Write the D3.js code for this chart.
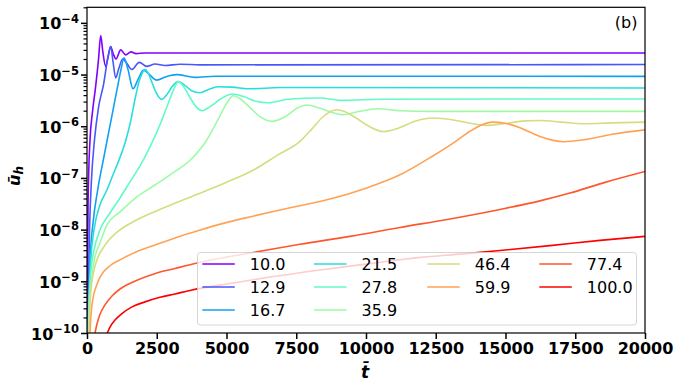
<!DOCTYPE html>
<html><head><meta charset="utf-8">
<script src="https://cdn.jsdelivr.net/npm/d3@7"></script>
<style>body{margin:0;background:#fff}svg{display:block}text{font-family:"DejaVu Sans",sans-serif}</style>
</head><body><svg id="chart" width="677" height="390"></svg>
<script>
// ---------- data ----------
const categories = ["10.0","12.9","16.7","21.5","27.8","35.9","46.4","59.9","77.4","100.0"];
const xTicks = [0,2500,5000,7500,10000,12500,15000,17500,20000];
const yTicks = [1e-10,1e-9,1e-8,1e-7,1e-6,1e-5,1e-4];
const yTickExponents = ["\u221210","\u22129","\u22128","\u22127","\u22126","\u22125","\u22124"];

const s10_0 = [[7,1.0e-10],[18,1.06e-9],[36,2.4e-8],[61,1.26e-7],[108,5.5e-7],[197,1.9e-6],[305,5.6e-6],[412,1.95e-5],[491,5.7e-5],[566,2.8e-5],[670,1.44e-5],[763,2.3e-5],[849,3.5e-5],[943,2.5e-5],[1039,2.0e-5],[1208,3.0e-5],[1387,2.4e-5],[1577,2.74e-5],[1756,2.54e-5],[2079,2.62e-5],[20000,2.62e-5]];
const s12_9 = [[20,1e-10],[54,1.06e-9],[90,9.9e-9],[161,9.2e-8],[269,5.5e-7],[412,2.3e-6],[599,6.7e-6],[735,1.95e-5],[849,3.5e-5],[932,1.78e-5],[1029,8.6e-6],[1129,1.25e-5],[1280,2.0e-5],[1434,1.63e-5],[1602,1.25e-5],[1875,1.72e-5],[2140,1.44e-5],[2437,1.6e-5],[2796,1.5e-5],[3333,1.58e-5],[4050,1.54e-5],[20000,1.56e-5]];
const s16_7 = [[30,1e-10],[90,6.8e-10],[118,3.0e-9],[215,1.33e-8],[384,5.9e-8],[609,2.6e-7],[842,1.15e-6],[1075,5.1e-6],[1219,1.25e-5],[1326,2.1e-5],[1469,1.25e-5],[1649,5.3e-6],[1828,8.0e-6],[2025,1.22e-5],[2222,1.02e-5],[2498,7.8e-6],[2832,9.1e-6],[3215,9.95e-6],[3871,8.8e-6],[4588,9.3e-6],[20000,9.2e-6]];
const s21_5 = [[40,1e-10],[72,4.3e-10],[143,3.0e-9],[251,9.9e-9],[466,3.0e-8],[717,5.9e-8],[932,1.15e-7],[1183,2.5e-7],[1398,5.5e-7],[1577,1.34e-6],[1720,3.3e-6],[1864,7.3e-6],[1971,1.04e-5],[2079,1.25e-5],[2186,1.09e-5],[2330,7.0e-6],[2473,4.5e-6],[2677,3.3e-6],[2867,4.1e-6],[3047,5.8e-6],[3262,7.3e-6],[3477,6.4e-6],[3763,4.8e-6],[4050,4.45e-6],[4337,5.1e-6],[4695,5.8e-6],[5197,5.7e-6],[5842,5.3e-6],[6917,5.6e-6],[20000,5.5e-6]];
const s27_8 = [[50,1e-10],[79,4.3e-10],[143,1.66e-9],[251,4.0e-9],[466,9.9e-9],[824,2.1e-8],[1183,4.1e-8],[1541,8.4e-8],[1900,1.71e-7],[2258,4.0e-7],[2616,1.07e-6],[2903,2.7e-6],[3118,5.3e-6],[3272,7.3e-6],[3441,6.1e-6],[3692,3.6e-6],[3907,2.4e-6],[4122,2.0e-6],[4409,2.4e-6],[4803,3.4e-6],[5197,4.2e-6],[5591,3.8e-6],[6057,3.05e-6],[6487,2.85e-6],[7204,3.33e-6],[8351,3.52e-6],[9176,3.16e-6],[10502,3.33e-6],[20000,3.37e-6]];
const s35_9 = [[60,1e-10],[90,3.5e-10],[143,8.5e-10],[251,2.4e-9],[466,5.5e-9],[717,1.23e-8],[1183,2.2e-8],[1792,4.3e-8],[2437,7.3e-8],[2975,1.15e-7],[3692,2.2e-7],[4229,4.8e-7],[4695,1.34e-6],[5018,2.85e-6],[5244,3.9e-6],[5484,3.4e-6],[5842,2.3e-6],[6201,1.53e-6],[6620,1.24e-6],[7097,1.53e-6],[7527,2.23e-6],[7885,2.58e-6],[8351,2.23e-6],[8817,1.83e-6],[9186,1.67e-6],[9785,1.95e-6],[10383,2.18e-6],[11218,2.0e-6],[12294,1.94e-6],[20000,1.94e-6]];
const s46_4 = [[70,1e-10],[97,2.8e-10],[143,6.8e-10],[215,1.32e-9],[358,2.6e-9],[645,5.0e-9],[1183,9.9e-9],[1720,1.48e-8],[2401,2.2e-8],[3190,3.3e-8],[3978,4.9e-8],[4946,8.0e-8],[5986,1.44e-7],[6846,2.8e-7],[7634,5.1e-7],[8064,8.9e-7],[8423,1.46e-6],[8710,1.91e-6],[8950,2.09e-6],[9211,1.95e-6],[9606,1.49e-6],[10072,1.02e-6],[10620,7.9e-7],[11147,9.1e-7],[11756,1.25e-6],[12412,1.44e-6],[13082,1.34e-6],[13727,1.14e-6],[14326,1.04e-6],[14982,1.13e-6],[15699,1.27e-6],[16236,1.29e-6],[17025,1.2e-6],[17778,1.12e-6],[18817,1.16e-6],[20000,1.2e-6]];
const s59_9 = [[108,1e-10],[143,2.2e-10],[215,4.7e-10],[323,7.8e-10],[466,1.21e-9],[824,2.0e-9],[1183,2.6e-9],[1756,3.7e-9],[2330,4.8e-9],[3154,6.9e-9],[3943,9.4e-9],[4946,1.35e-8],[5986,1.84e-8],[6917,2.4e-8],[7634,2.9e-8],[8710,3.9e-8],[10025,6.4e-8],[11218,1.15e-7],[12365,2.6e-7],[13190,5.0e-7],[13728,8.0e-7],[14158,1.07e-6],[14516,1.2e-6],[14982,1.14e-6],[15519,9.4e-7],[16236,6.3e-7],[17072,5.0e-7],[17849,5.5e-7],[18817,7.0e-7],[20000,8.5e-7]];
const s77_4 = [[287,1e-10],[358,1.49e-10],[466,2.3e-10],[645,3.5e-10],[896,5.2e-10],[1183,7.1e-10],[1649,9.7e-10],[2401,1.39e-9],[3154,1.77e-9],[3943,2.26e-9],[4946,2.9e-9],[5950,3.6e-9],[7634,5.2e-9],[9426,7.4e-9],[11218,1.1e-8],[13011,1.61e-8],[14803,2.46e-8],[16236,3.6e-8],[17311,5.1e-8],[18566,8.2e-8],[20000,1.33e-7]];
const s100_0 = [[728,1e-10],[824,1.3e-10],[1004,1.78e-10],[1219,2.3e-10],[1613,3.2e-10],[2079,4.0e-10],[2616,4.9e-10],[3154,5.7e-10],[3763,6.8e-10],[5125,9.1e-10],[6559,1.21e-9],[8351,1.66e-9],[10143,2.2e-9],[11935,2.9e-9],[13477,3.4e-9],[14803,3.95e-9],[16595,4.9e-9],[18387,6.2e-9],[20000,7.4e-9]];
const seriesList = [s10_0,s12_9,s16_7,s21_5,s27_8,s35_9,s46_4,s59_9,s77_4,s100_0];

// ---------- layout ----------
const plotL = 87, plotR = 645, plotT = 7.3, plotB = 333;
const svg = d3.select("#chart");

const x = d3.scaleLinear().domain([0,20000]).range([plotL,plotR]);
const y = d3.scaleLog().domain([1e-10,2e-4]).range([plotB,plotT]);

// matplotlib "rainbow" colormap
function rainbow(v){
  const r = Math.min(1,Math.abs(2*v-0.5)), g = Math.sin(Math.PI*v), b = Math.max(0,Math.cos(Math.PI*v/2));
  return d3.rgb(Math.round(r*255),Math.round(g*255),Math.round(b*255)).formatHex();
}
const colors = categories.map((c,i)=>rainbow(Math.min(255,Math.floor(i/9*256))/255));

svg.append("defs").append("clipPath").attr("id","clip")
  .append("rect").attr("x",plotL).attr("y",plotT).attr("width",plotR-plotL).attr("height",plotB-plotT);

const line = d3.line().x(d=>x(d[0])).y(d=>y(d[1])).curve(d3.curveMonotoneX);
const gLines = svg.append("g").attr("clip-path","url(#clip)");
seriesList.forEach((s,i)=>{
  gLines.append("path").datum(s).attr("d",line).attr("fill","none")
   .attr("stroke",colors[i]).attr("stroke-width",1.6).attr("stroke-linejoin","round");
});

// ---------- legend (4 columns, filled column by column: 3,3,2,2) ----------
const lg = svg.append("g");
lg.append("rect").attr("x",197.5).attr("y",252.5).attr("width",439).attr("height",72.5).attr("rx",3)
  .attr("fill","#fff").attr("fill-opacity",0.8).attr("stroke","#ccc").attr("stroke-opacity",0.8).attr("stroke-width",1);
const colX = [202.3,314,427.3,539.3], rowY = [264,287,310];
const colStart = [0,3,6,8];
categories.forEach((c,i)=>{
  let col = 0; for (let k=0;k<colStart.length;k++) if (i>=colStart[k]) col=k;
  const row = i - colStart[col];
  lg.append("line").attr("x1",colX[col]).attr("x2",colX[col]+32.5).attr("y1",rowY[row]).attr("y2",rowY[row])
    .attr("stroke",colors[i]).attr("stroke-width",1.6);
  lg.append("text").attr("x",colX[col]+47.5).attr("y",rowY[row]).attr("dy","0.36em")
    .attr("font-size",16).attr("fill","#000").text(c);
});

// ---------- axes ----------
const axB = svg.append("g").attr("transform",`translate(0,${plotB})`)
  .call(d3.axisBottom(x).tickValues(xTicks).tickSize(6).tickPadding(4).tickFormat(d3.format("d")));
axB.select(".domain").remove();
axB.selectAll(".tick line").attr("stroke-width",1.5);
axB.selectAll(".tick text").attr("font-size",16).attr("font-weight","bold").attr("font-family","DejaVu Sans").attr("fill","#000");

const minor = [];
for (let e=-10;e<=-4;e++) for (let k=2;k<=9;k++){ const v=k*Math.pow(10,e); if (v<=2.0001e-4) minor.push(v); }
const axLm = svg.append("g").attr("transform",`translate(${plotL},0)`)
  .call(d3.axisLeft(y).tickValues(minor).tickSize(3.5).tickFormat(""));
axLm.select(".domain").remove();
axLm.selectAll(".tick line").attr("stroke-width",1.2);
const axL = svg.append("g").attr("transform",`translate(${plotL},0)`)
  .call(d3.axisLeft(y).tickValues(yTicks).tickSize(6).tickFormat(""));
axL.select(".domain").remove();
axL.selectAll(".tick line").attr("stroke-width",1.5);

yTicks.forEach((v,i)=>{
  const t = svg.append("text").attr("x",79).attr("y",y(v)+6.5).attr("text-anchor","end")
    .attr("font-size",16).attr("font-weight","bold").attr("fill","#000");
  t.append("tspan").text("10");
  t.append("tspan").attr("dy",-6.5).attr("font-size",11.5).text(yTickExponents[i]);
});

// frame
svg.append("rect").attr("x",plotL).attr("y",plotT).attr("width",plotR-plotL).attr("height",plotB-plotT)
  .attr("fill","none").attr("stroke","#000").attr("stroke-width",1.2);

// labels
svg.append("text").attr("x",365).attr("y",378).attr("text-anchor","middle").attr("font-size",17)
  .attr("font-style","italic").attr("font-weight","bold").text("t\u0304");
const yl = svg.append("text").attr("transform","translate(20,176) rotate(-90)").attr("text-anchor","middle")
  .attr("font-size",16).attr("font-style","italic").attr("font-weight","bold");
yl.append("tspan").text("u\u0304");
yl.append("tspan").attr("dy",3).attr("font-size",12).text("h");

svg.append("text").attr("x",637.5).attr("y",28).attr("text-anchor","end").attr("font-size",16).text("(b)");
</script></body></html>
